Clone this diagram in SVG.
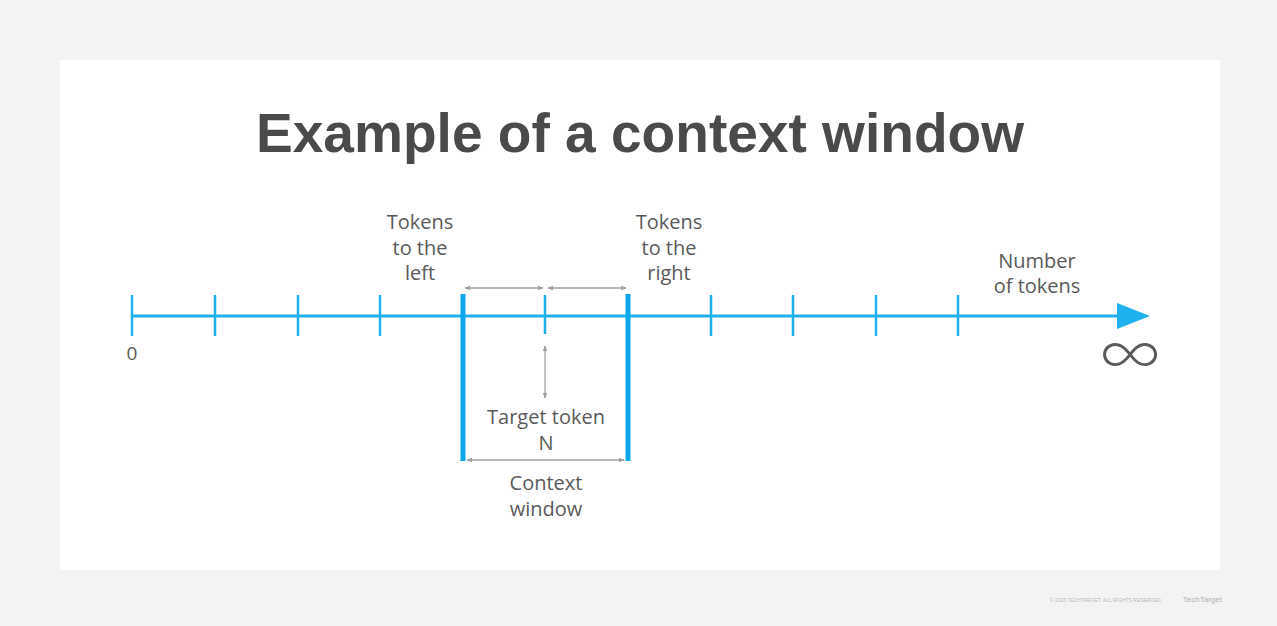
<svg xmlns="http://www.w3.org/2000/svg" width="1277" height="626" viewBox="0 0 1277 626">
<defs>
<style>
.lbl{font-family:"Open Sans","Liberation Sans",sans-serif;font-size:20px;fill:#5a5a5a;text-anchor:middle}
.axis{stroke:#1fb1ee;stroke-width:3;fill:none}
.tick{stroke:#1fb1ee;stroke-width:2.5}
.bar{stroke:#0ca6ea;stroke-width:5}
.dim{stroke:#a0a0a0;stroke-width:1.3;fill:none;marker-start:url(#ah);marker-end:url(#ah)}
</style>
<marker id="ah" viewBox="0 0 10 10" refX="9" refY="5" markerWidth="6" markerHeight="6" orient="auto-start-reverse" markerUnits="userSpaceOnUse">
<path d="M0,1 L10,5 L0,9 z" fill="#a0a0a0"/>
</marker>
</defs>
<rect width="1277" height="626" fill="#f3f3f3"/>
<rect x="60" y="60" width="1160" height="510" fill="#ffffff"/>
<text id="title" x="640" y="152" text-anchor="middle" font-family="Liberation Sans, Arial, sans-serif" font-weight="bold" font-size="56" fill="#4a4a4a" textLength="768" lengthAdjust="spacingAndGlyphs">Example of a context window</text>
<g id="axis">
<line class="axis" x1="132" y1="316" x2="1122" y2="316"/>
<path d="M1117,303 L1150,316 L1117,329 z" fill="#1fb1ee"/>
<g id="ticks">
<line class="tick" x1="132" y1="295" x2="132" y2="336"/>
<line class="tick" x1="215" y1="295" x2="215" y2="336"/>
<line class="tick" x1="298" y1="295" x2="298" y2="336"/>
<line class="tick" x1="380" y1="295" x2="380" y2="336"/>
<line class="tick" x1="545" y1="295" x2="545" y2="334"/>
<line class="tick" x1="711" y1="295" x2="711" y2="336"/>
<line class="tick" x1="793" y1="295" x2="793" y2="336"/>
<line class="tick" x1="876" y1="295" x2="876" y2="336"/>
<line class="tick" x1="958" y1="295" x2="958" y2="336"/>
</g>
</g>
<g id="window-bounds">
<line class="bar" x1="463" y1="294" x2="463" y2="461"/>
<line class="bar" x1="628" y1="294" x2="628" y2="461"/>
</g>
<g id="connectors">
<line class="dim" x1="465" y1="288" x2="543" y2="288"/>
<line class="dim" x1="548" y1="288" x2="626" y2="288"/>
<line class="dim" x1="545" y1="346" x2="545" y2="398"/>
<line class="dim" x1="467" y1="460" x2="624" y2="460"/>
</g>
<g id="left-label">
<text class="lbl" x="420" y="229">Tokens</text>
<text class="lbl" x="420" y="255">to the</text>
<text class="lbl" x="420" y="280">left</text>
</g>
<g id="right-label">
<text class="lbl" x="669" y="229">Tokens</text>
<text class="lbl" x="669" y="255">to the</text>
<text class="lbl" x="669" y="280">right</text>
</g>
<g id="number-label">
<text class="lbl" x="1037" y="268">Number</text>
<text class="lbl" x="1037" y="293">of tokens</text>
</g>
<g id="zero">
<text class="lbl" x="132" y="360" style="font-size:19px">0</text>
</g>
<g id="infinity">
<text x="0" y="0" transform="translate(1130,375) scale(1.05,1)" text-anchor="middle" font-family="Inter, Lato, Noto Sans, sans-serif" font-weight="200" font-size="66" fill="#5a5a5a">∞</text>
</g>
<g id="target">
<text class="lbl" x="546" y="424">Target token</text>
<text class="lbl" x="546" y="450">N</text>
</g>
<g id="context">
<text class="lbl" x="546" y="490">Context</text>
<text class="lbl" x="546" y="516">window</text>
</g>
<g id="footer">
<text x="1162" y="602" text-anchor="end" font-family="Liberation Sans, sans-serif" font-size="5" fill="#b8b8b8">© 2023 TECHTARGET. ALL RIGHTS RESERVED.</text>
<text x="1222" y="602" text-anchor="end" font-family="Liberation Sans, sans-serif" font-size="8" fill="#b0b0b0">TechTarget</text>
</g>
</svg>
